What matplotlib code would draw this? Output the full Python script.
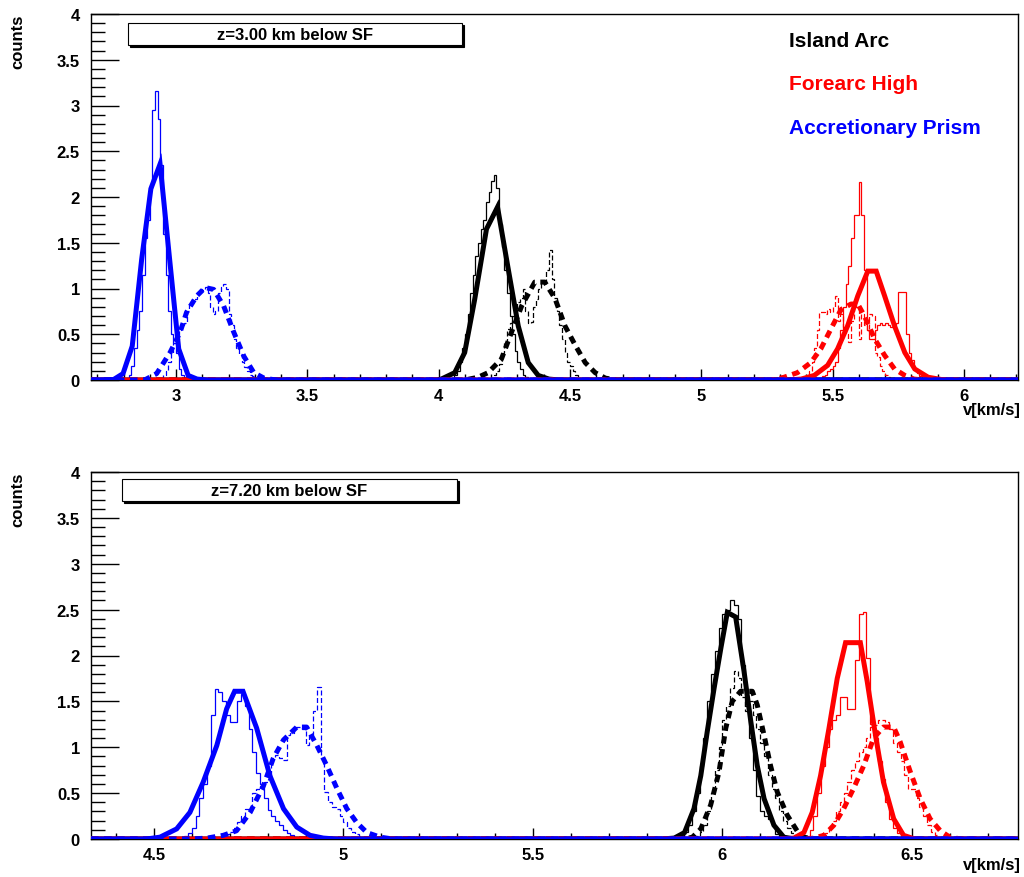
import matplotlib
matplotlib.use('Agg')
import matplotlib.pyplot as plt
import numpy as np
from matplotlib.ticker import MultipleLocator, FuncFormatter
from matplotlib.patches import Rectangle

plt.rcParams['font.family'] = ['Liberation Sans', 'DejaVu Sans']
plt.rcParams['font.weight'] = 'bold'

BIN = 0.01

# ---------------- top panel: z = 3.00 km ----------------
top_xlim = (2.676, 6.206)

# histograms: first bin low edge + bin contents (bin width BIN)
top_arc_h_x0 = 4.05
top_arc_h = [0.02, 0.05, 0.1, 0.2, 0.35, 0.5, 0.72, 0.95, 1.15, 1.35, 1.5, 1.65, 1.75, 1.95,
             2.05, 2.18, 2.24, 2.1, 1.7, 1.45, 1.2, 0.95, 0.7, 0.5, 0.32, 0.2, 0.12, 0.06, 0.03, 0.01]
top_arc_h2_x0 = 4.20
top_arc_h2 = [0.02, 0.05, 0.1, 0.18, 0.3, 0.42, 0.56, 0.62, 0.7, 0.78, 0.85, 0.9, 1.0, 0.75,
              0.62, 0.63, 0.8, 0.88, 1.0, 1.08, 1.05, 1.2, 1.42, 1.1, 0.9, 0.75, 0.6, 0.45, 0.3,
              0.2, 0.15, 0.1, 0.05, 0.02]
top_fh_h_x0 = 5.45
top_fh_h = [0.02, 0.04, 0.06, 0.1, 0.12, 0.15, 0.2, 0.35, 0.55, 0.8, 1.05, 1.25, 1.55, 1.8,
            1.8, 2.16, 1.8, 1.2, 0.55, 0.45, 0.45, 0.55, 0.6, 0.62, 0.6, 0.62, 0.6, 0.58, 0.6,
            0.62, 0.96, 0.96, 0.96, 0.5, 0.3, 0.22, 0.12, 0.08, 0.04, 0.02]
top_fh_h2_x0 = 5.40
top_fh_h2 = [0.05, 0.1, 0.2, 0.35, 0.55, 0.74, 0.74, 0.72, 0.78, 0.74, 0.8, 0.92, 0.65, 0.72,
             0.58, 0.5, 0.42, 0.65, 0.82, 0.8, 0.45, 0.72, 0.6, 0.55, 0.72, 0.7, 0.3, 0.25,
             0.15, 0.1, 0.06, 0.03, 0.01]
top_ap_h_x0 = 2.80
top_ap_h = [0.0, 0.02, 0.05, 0.15, 0.35, 0.55, 0.75, 1.15, 1.55, 1.75, 2.1, 2.95, 3.16, 2.85,
            2.35, 1.6, 1.15, 0.75, 0.5, 0.4, 0.3, 0.12, 0.05, 0.02]
top_ap_h2_x0 = 2.95
top_ap_h2 = [0.05, 0.1, 0.2, 0.3, 0.4, 0.45, 0.55, 0.6, 0.62, 0.75, 0.85, 0.88, 0.88, 0.95,
             1.0, 0.98, 1.02, 0.95, 0.8, 0.72, 0.75, 0.95, 1.02, 1.05, 1.0, 0.72, 0.6, 0.45,
             0.35, 0.28, 0.2, 0.14, 0.1, 0.06, 0.04, 0.02, 0.01]

# gaussian fit curves, read as polylines
top_arc_fx = [2.676, 3.99, 4.01, 4.061, 4.099, 4.137, 4.182, 4.224, 4.265, 4.303, 4.341, 4.379, 4.42, 4.46, 6.206]
top_arc_fy = [0, 0, 0.01, 0.08, 0.30, 0.88, 1.65, 1.89, 1.21, 0.59, 0.19, 0.05, 0.01, 0, 0]
top_arc_gx = [2.676, 4.10, 4.15, 4.188, 4.239, 4.277, 4.316, 4.366, 4.404, 4.443, 4.481, 4.52, 4.558, 4.596, 4.635, 4.68, 6.206]
top_arc_gy = [0, 0, 0.03, 0.08, 0.23, 0.52, 0.81, 1.07, 1.07, 0.89, 0.59, 0.38, 0.19, 0.08, 0.02, 0, 0]
top_fh_fx = [2.676, 5.33, 5.38, 5.43, 5.481, 5.519, 5.557, 5.596, 5.634, 5.666, 5.698, 5.736, 5.775, 5.813, 5.864, 5.915, 5.96, 6.206]
top_fh_fy = [0, 0, 0.01, 0.05, 0.16, 0.34, 0.59, 0.92, 1.19, 1.19, 0.92, 0.59, 0.30, 0.12, 0.03, 0.005, 0, 0]
top_fh_gx = [2.676, 5.27, 5.315, 5.366, 5.417, 5.455, 5.494, 5.532, 5.57, 5.596, 5.621, 5.66, 5.698, 5.736, 5.775, 5.81, 5.85, 6.206]
top_fh_gy = [0, 0, 0.03, 0.08, 0.19, 0.34, 0.56, 0.77, 0.83, 0.83, 0.70, 0.45, 0.27, 0.12, 0.05, 0.01, 0, 0]
top_ap_fx = [2.676, 2.762, 2.798, 2.833, 2.869, 2.904, 2.939, 2.975, 3.01, 3.046, 3.08, 3.12, 6.206]
top_ap_fy = [0, 0.005, 0.07, 0.37, 1.32, 2.09, 2.36, 1.33, 0.34, 0.05, 0.01, 0, 0]
top_ap_gx = [2.676, 2.88, 2.926, 2.977, 3.015, 3.04, 3.079, 3.111, 3.143, 3.181, 3.22, 3.258, 3.296, 3.335, 3.38, 6.206]
top_ap_gy = [0, 0, 0.07, 0.30, 0.52, 0.74, 0.92, 1.01, 0.99, 0.81, 0.52, 0.26, 0.08, 0.02, 0, 0]

# ---------------- bottom panel: z = 7.20 km ----------------
bot_xlim = (4.334, 6.78)

bot_arc_h_x0 = 5.89
bot_arc_h = [0.03, 0.08, 0.15, 0.3, 0.5, 0.8, 1.1, 1.5, 1.8, 2.05, 2.3, 2.45, 2.5, 2.6, 2.55,
             2.4, 1.9, 1.45, 1.1, 0.75, 0.47, 0.3, 0.25, 0.22, 0.15, 0.05, 0.02]
bot_arc_h2_x0 = 5.93
bot_arc_h2 = [0.03, 0.08, 0.15, 0.3, 0.5, 0.75, 1.0, 1.3, 1.45, 1.65, 1.83, 1.75, 1.55, 1.4,
              1.5, 1.35, 1.2, 1.05, 0.9, 0.7, 0.55, 0.45, 0.3, 0.2, 0.12, 0.07, 0.04, 0.02]
bot_fh_h_x0 = 6.22
bot_fh_h = [0.03, 0.1, 0.25, 0.5, 0.8, 1.0, 1.2, 1.3, 1.35, 1.55, 1.55, 1.42, 1.42, 1.95, 2.45,
            2.47, 1.97, 1.25, 1.1, 0.85, 0.65, 0.4, 0.22, 0.12, 0.06, 0.02]
bot_fh_h2_x0 = 6.26
bot_fh_h2 = [0.03, 0.06, 0.12, 0.2, 0.3, 0.4, 0.5, 0.62, 0.75, 0.85, 0.95, 1.0, 1.1, 1.22, 1.24,
             1.3, 1.3, 1.28, 1.2, 1.05, 0.95, 0.85, 0.7, 0.55, 0.55, 0.45, 0.35, 0.25, 0.15,
             0.08, 0.04, 0.02]
bot_ap_h_x0 = 4.58
bot_ap_h = [0.03, 0.06, 0.12, 0.25, 0.45, 0.6, 0.8, 1.35, 1.63, 1.6, 1.5, 1.35, 1.27, 1.27, 1.5,
            1.58, 1.45, 1.2, 0.95, 0.72, 0.6, 0.45, 0.32, 0.25, 0.2, 0.15, 0.1, 0.07, 0.04, 0.02]
bot_ap_h2_x0 = 4.68
bot_ap_h2 = [0.03, 0.05, 0.08, 0.12, 0.18, 0.25, 0.33, 0.35, 0.5, 0.55, 0.58, 0.62, 0.65, 0.88,
             0.92, 0.88, 0.86, 1.13, 1.15, 1.22, 1.22, 1.2, 1.02, 1.13, 1.39, 1.66, 0.88, 0.51,
             0.4, 0.35, 0.33, 0.25, 0.18, 0.12, 0.08, 0.05, 0.03, 0.02, 0.01]

bot_arc_fx = [4.334, 5.84, 5.873, 5.9, 5.925, 5.943, 5.96, 5.978, 5.996, 6.013, 6.035, 6.057, 6.075, 6.092, 6.11, 6.136, 6.162, 6.19, 6.78]
bot_arc_fy = [0, 0, 0.01, 0.07, 0.33, 0.69, 1.17, 1.64, 2.08, 2.47, 2.42, 1.83, 1.28, 0.80, 0.44, 0.15, 0.02, 0, 0]
bot_arc_gx = [4.334, 5.90, 5.921, 5.943, 5.969, 5.991, 6.009, 6.026, 6.048, 6.079, 6.092, 6.11, 6.127, 6.145, 6.171, 6.197, 6.215, 6.24, 6.78]
bot_arc_gy = [0, 0, 0.02, 0.11, 0.37, 0.73, 1.21, 1.50, 1.61, 1.61, 1.46, 1.13, 0.80, 0.51, 0.26, 0.09, 0.02, 0, 0]
bot_fh_fx = [4.334, 6.16, 6.189, 6.215, 6.237, 6.259, 6.281, 6.303, 6.325, 6.364, 6.382, 6.404, 6.425, 6.452, 6.478, 6.504, 6.53, 6.78]
bot_fh_fy = [0, 0, 0.01, 0.07, 0.29, 0.69, 1.2, 1.75, 2.14, 2.14, 1.72, 1.13, 0.62, 0.22, 0.04, 0.005, 0, 0]
bot_fh_gx = [4.334, 6.22, 6.241, 6.268, 6.294, 6.32, 6.346, 6.373, 6.399, 6.425, 6.452, 6.469, 6.496, 6.522, 6.548, 6.575, 6.6, 6.63, 6.78]
bot_fh_gy = [0, 0, 0.01, 0.04, 0.15, 0.33, 0.55, 0.80, 1.10, 1.22, 1.22, 1.06, 0.73, 0.44, 0.22, 0.09, 0.02, 0, 0]
bot_ap_fx = [4.334, 4.48, 4.516, 4.56, 4.595, 4.63, 4.666, 4.692, 4.713, 4.735, 4.771, 4.806, 4.842, 4.877, 4.912, 4.947, 4.98, 6.78]
bot_ap_fy = [0, 0, 0.02, 0.11, 0.29, 0.62, 1.02, 1.42, 1.61, 1.61, 1.21, 0.69, 0.33, 0.13, 0.04, 0.01, 0, 0]
bot_ap_gx = [4.334, 4.60, 4.64, 4.683, 4.718, 4.754, 4.789, 4.815, 4.842, 4.877, 4.903, 4.93, 4.956, 4.983, 5.009, 5.035, 5.062, 5.097, 5.13, 6.78]
bot_ap_gy = [0, 0, 0.01, 0.04, 0.09, 0.29, 0.58, 0.88, 1.08, 1.22, 1.22, 1.02, 0.80, 0.55, 0.33, 0.18, 0.07, 0.02, 0, 0]

legend_labels = ['Island Arc', 'Forearc High', 'Accretionary Prism']
colors = ['black', 'red', 'blue']
box_labels = ['z=3.00 km below SF', 'z=7.20 km below SF']

W, H = 1024, 878


def fx(px):
    return px / W


def fy(py):
    return 1 - py / H


def draw_panel(ax, hists, fits, xlim):
    # thin histograms first
    for (x0, vals, ls), c in zip(hists, colors * 2):
        edges = x0 + BIN * np.arange(len(vals) + 1)
        ax.stairs(vals, edges, color=c, lw=0.9, linestyle=ls, zorder=2)
    # thick fits: black, red, blue (blue ends on top)
    for c, (x1, y1, x2, y2) in zip(colors, fits):
        ax.plot(x1, y1, color=c, lw=3.6, solid_joinstyle='miter', zorder=3)
        ax.plot(x2, y2, color=c, lw=3.6, dashes=(1.5, 1.1), zorder=3)
    ax.set_xlim(*xlim)
    ax.set_ylim(0, 4)
    ax.xaxis.set_major_locator(MultipleLocator(0.5))
    ax.xaxis.set_minor_locator(MultipleLocator(0.1))
    ax.yaxis.set_major_locator(MultipleLocator(0.5))
    ax.yaxis.set_minor_locator(MultipleLocator(0.1))
    fmt = FuncFormatter(lambda v, p: '%g' % round(v, 2))
    ax.xaxis.set_major_formatter(fmt)
    ax.yaxis.set_major_formatter(fmt)
    ax.tick_params(axis='both', which='both', direction='in', top=False, right=False,
                   labelsize=12, width=1)
    ax.tick_params(axis='y', which='major', length=20, pad=8)
    ax.tick_params(axis='y', which='minor', length=10)
    ax.tick_params(axis='x', which='major', length=8, pad=6)
    ax.tick_params(axis='x', which='minor', length=4)
    for s in ax.spines.values():
        s.set_linewidth(1)


fig = plt.figure(figsize=(10.24, 8.78), dpi=100)

ax1 = fig.add_axes([fx(91), fy(381), fx(1018) - fx(91), fy(15) - fy(381)])
draw_panel(ax1,
           [(top_arc_h_x0, top_arc_h, '-'), (top_fh_h_x0, top_fh_h, '-'), (top_ap_h_x0, top_ap_h, '-'),
            (top_arc_h2_x0, top_arc_h2, (0, (4, 2))), (top_fh_h2_x0, top_fh_h2, (0, (4, 2))),
            (top_ap_h2_x0, top_ap_h2, (0, (4, 2)))],
           [(top_arc_fx, top_arc_fy, top_arc_gx, top_arc_gy),
            (top_fh_fx, top_fh_fy, top_fh_gx, top_fh_gy),
            (top_ap_fx, top_ap_fy, top_ap_gx, top_ap_gy)],
           top_xlim)

ax2 = fig.add_axes([fx(91), fy(840), fx(1018) - fx(91), fy(473) - fy(840)])
draw_panel(ax2,
           [(bot_arc_h_x0, bot_arc_h, '-'), (bot_fh_h_x0, bot_fh_h, '-'), (bot_ap_h_x0, bot_ap_h, '-'),
            (bot_arc_h2_x0, bot_arc_h2, (0, (4, 2))), (bot_fh_h2_x0, bot_fh_h2, (0, (4, 2))),
            (bot_ap_h2_x0, bot_ap_h2, (0, (4, 2)))],
           [(bot_arc_fx, bot_arc_fy, bot_arc_gx, bot_arc_gy),
            (bot_fh_fx, bot_fh_fy, bot_fh_gx, bot_fh_gy),
            (bot_ap_fx, bot_ap_fy, bot_ap_gx, bot_ap_gy)],
           bot_xlim)

# axis titles, ROOT style
for top_py, bot_py in [(15, 411), (473, 866)]:
    fig.text(fx(18), fy(top_py), 'counts', rotation=90, ha='center', va='top', fontsize=12)
    fig.text(fx(1021), fy(bot_py), 'v[km/s]', ha='right', va='center', fontsize=12)

# z label boxes
for (x0, y0, x1, y1), lab in zip([(128, 24, 462, 46), (122, 480, 457, 502)], box_labels):
    fig.patches.append(Rectangle((fx(x0) + 2 / W, fy(y1) - 2 / H), fx(x1) - fx(x0), fy(y0) - fy(y1),
                                 transform=fig.transFigure, facecolor='black', edgecolor='black', lw=0.8))
    fig.patches.append(Rectangle((fx(x0), fy(y1)), fx(x1) - fx(x0), fy(y0) - fy(y1),
                                 transform=fig.transFigure, facecolor='white', edgecolor='black', lw=0.8))
    fig.text(fx((x0 + x1) / 2), fy((y0 + y1) / 2), lab, ha='center', va='center', fontsize=12)

# legend text
for lab, c, py in zip(legend_labels, colors, [47, 90, 134]):
    fig.text(fx(789), fy(py), lab, color=c, ha='left', va='baseline', fontsize=15)

fig.savefig('out.png', dpi=100)
